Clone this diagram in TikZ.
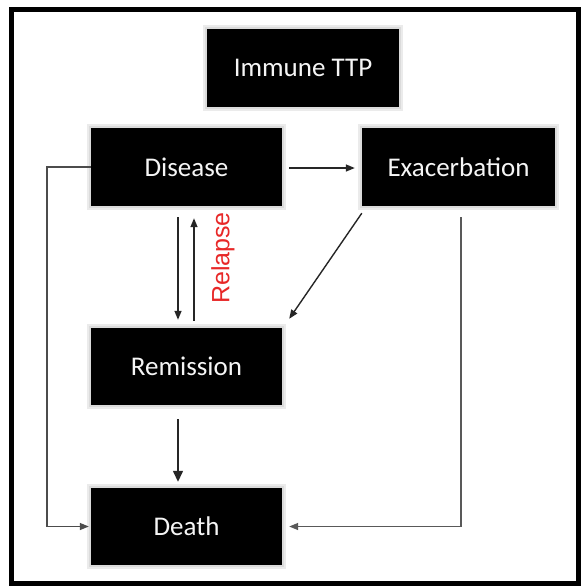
\documentclass[tikz,border=0pt]{standalone}
\usepackage{fontspec}
\setmainfont{Carlito}
\newfontfamily\arialfont{Liberation Sans}
\usetikzlibrary{arrows.meta,calc}
\definecolor{relred}{RGB}{232,40,40}
\begin{document}
\begin{tikzpicture}[x=1pt,y=-1pt,
  statebox/.style={fill=black, inner sep=0pt, minimum width=191pt, minimum height=77pt,
    text=black!4, font=\fontsize{27}{32}\selectfont,
    preaction={draw=black!8, line width=8pt},
    preaction={draw=black!14, line width=4pt}},
  conn/.style={draw=black!85, line width=1.4pt, -{Triangle[length=9pt,width=7pt]}},
  plain/.style={draw=black!70, line width=1.5pt}]
\useasboundingbox (0,0) rectangle (581,587);
\fill[white] (0,0) rectangle (581,587);
\draw[line width=5pt] (11.5,9) rectangle (578,583);

\node[statebox, minimum width=192pt, minimum height=78pt] (ttp) at (303,68) {Immune TTP};
\node[statebox, minimum height=78pt] (dis) at (186.5,167) {Disease};
\node[statebox, minimum width=193pt, minimum height=78pt] (exa) at (458.5,167) {Exacerbation};
\node[statebox] (rem) at (186.5,366.5) {Remission};
\node[statebox] (dea) at (186.5,526.5) {Death};

% Disease -> Exacerbation
\draw[conn] ($(dis.east)+(7,1)$) -- ($(exa.west)+(-7,1)$);
% Disease -> Death (left loop)
\coordinate (lx) at (47,0);
\draw[conn, draw=black!70] (dis.west) -| (lx |- dea.west) -- ($(dea.west)+(-2,0)$);
% Disease -> Remission
\draw[conn] ($(dis.south)+(-8.5,11)$) -- ($(rem.north)+(-8.5,-8)$);
% Remission -> Disease (Relapse)
\draw[conn] ($(rem.north)+(7.5,-7)$) -- ($(dis.south)+(7.5,12)$);
\node[rotate=90, inner sep=0pt, text=relred, font=\arialfont\fontsize{25}{28}\selectfont] (rel) at (223,258) {Relapse};
% Exacerbation -> Remission
\draw[conn] ($(exa.south west)+(0,7)$) -- ($(rem.north east)+(7,-9)$);
% Exacerbation -> Death
\coordinate (rx) at (461,0);
\draw[conn, draw=black!65] ($(exa.south)+(2.5,11)$) -- (rx |- dea.east) -- ($(dea.east)+(7,0)$);
% Remission -> Death
\draw[conn, -{Triangle[length=11pt,width=10pt]}] ($(rem.south)+(-8.5,14)$) -- ($(dea.north)+(-8.5,-6)$);
\end{tikzpicture}
\end{document}
